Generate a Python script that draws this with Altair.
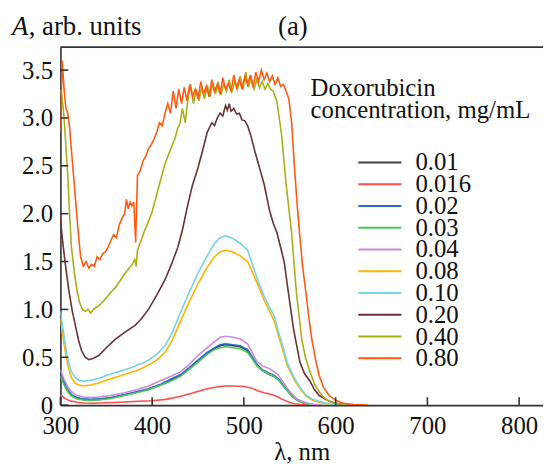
import altair as alt
import pandas as pd

# ---- data ----
concentrations = ["0.01", "0.016", "0.02", "0.03", "0.04", "0.08", "0.10", "0.20", "0.40", "0.80"]
colors = ["#404040", "#ff4d4d", "#2b6cc4", "#4dc85a", "#cc88dd", "#ffb300", "#73d4e6", "#6b2f34", "#a8b014", "#ff5a10"]

wl_001 = [300, 304, 308, 312, 318, 325, 333, 342, 355, 370, 383, 396, 410, 420, 431, 440, 450, 460, 468, 474, 480, 488, 496, 504, 510, 514, 520, 528, 533, 538, 542, 547, 552, 557, 563, 568, 575, 585]
a_001 = [0.32, 0.23, 0.15, 0.10, 0.075, 0.06, 0.055, 0.06, 0.075, 0.105, 0.135, 0.165, 0.215, 0.26, 0.31, 0.38, 0.46, 0.54, 0.59, 0.62, 0.63, 0.62, 0.61, 0.57, 0.48, 0.42, 0.36, 0.32, 0.30, 0.265, 0.215, 0.155, 0.10, 0.06, 0.03, 0.015, 0.005, 0.0]

wl_0016 = [300, 305, 310, 318, 325, 335, 350, 370, 385, 400, 415, 430, 445, 460, 470, 480, 490, 500, 508, 515, 522, 530, 536, 542, 548, 555, 562, 570]
a_0016 = [0.11, 0.07, 0.045, 0.03, 0.022, 0.02, 0.025, 0.033, 0.04, 0.045, 0.06, 0.09, 0.13, 0.17, 0.19, 0.20, 0.20, 0.195, 0.18, 0.15, 0.13, 0.11, 0.09, 0.06, 0.035, 0.015, 0.005, 0.0]

wl_002 = [300, 304, 308, 312, 318, 325, 333, 342, 355, 370, 383, 396, 410, 420, 431, 440, 450, 460, 468, 474, 480, 488, 496, 504, 510, 514, 520, 528, 533, 538, 542, 547, 552, 557, 563, 568, 575, 585]
a_002 = [0.33, 0.24, 0.16, 0.11, 0.08, 0.065, 0.06, 0.065, 0.08, 0.11, 0.14, 0.17, 0.22, 0.27, 0.32, 0.39, 0.47, 0.55, 0.60, 0.63, 0.64, 0.63, 0.62, 0.58, 0.49, 0.43, 0.37, 0.33, 0.31, 0.27, 0.22, 0.16, 0.10, 0.06, 0.03, 0.015, 0.005, 0.0]

wl_003 = [300, 304, 308, 312, 318, 325, 333, 342, 355, 370, 383, 396, 410, 420, 431, 440, 450, 460, 468, 474, 480, 488, 496, 504, 510, 514, 520, 528, 533, 538, 542, 547, 552, 557, 563, 568, 575, 585]
a_003 = [0.30, 0.21, 0.14, 0.095, 0.065, 0.055, 0.05, 0.055, 0.07, 0.10, 0.13, 0.16, 0.21, 0.25, 0.30, 0.37, 0.45, 0.53, 0.58, 0.60, 0.61, 0.60, 0.59, 0.55, 0.47, 0.41, 0.36, 0.32, 0.30, 0.26, 0.21, 0.15, 0.095, 0.055, 0.03, 0.015, 0.005, 0.0]

wl_004 = [300, 304, 308, 312, 318, 325, 333, 342, 355, 370, 383, 396, 410, 420, 431, 440, 450, 460, 468, 474, 480, 488, 496, 504, 510, 514, 520, 528, 533, 538, 542, 547, 552, 557, 563, 568, 575, 585]
a_004 = [0.37, 0.27, 0.19, 0.14, 0.10, 0.085, 0.08, 0.085, 0.10, 0.13, 0.16, 0.20, 0.26, 0.30, 0.35, 0.42, 0.52, 0.60, 0.66, 0.71, 0.72, 0.71, 0.69, 0.64, 0.53, 0.46, 0.41, 0.38, 0.35, 0.31, 0.25, 0.18, 0.12, 0.07, 0.04, 0.025, 0.01, 0.0]

wl_008 = [300, 303, 306, 309, 312, 316, 320, 325, 333, 342, 350, 360, 370, 380, 383, 390, 396, 405, 414, 422, 431, 440, 450, 460, 468, 474, 480, 488, 496, 504, 511, 516, 522, 527, 533, 539, 543, 547, 552, 557, 563, 568, 575, 582, 592, 601, 610]
a_008 = [0.90, 0.70, 0.52, 0.38, 0.29, 0.23, 0.21, 0.20, 0.21, 0.23, 0.26, 0.29, 0.32, 0.35, 0.36, 0.39, 0.42, 0.47, 0.55, 0.68, 0.88, 1.07, 1.27, 1.44, 1.55, 1.60, 1.62, 1.60, 1.56, 1.50, 1.35, 1.24, 1.10, 1.00, 0.88, 0.68, 0.56, 0.42, 0.32, 0.23, 0.15, 0.09, 0.05, 0.03, 0.01, 0.003, 0.0]

wl_010 = [300, 303, 306, 309, 312, 316, 320, 325, 333, 342, 350, 360, 370, 380, 383, 390, 396, 405, 414, 422, 431, 440, 450, 460, 468, 474, 480, 488, 496, 504, 511, 516, 522, 527, 533, 539, 543, 547, 552, 557, 563, 568, 575, 582, 592, 601, 610]
a_010 = [0.98, 0.78, 0.59, 0.45, 0.35, 0.29, 0.26, 0.25, 0.26, 0.28, 0.31, 0.34, 0.37, 0.40, 0.42, 0.44, 0.47, 0.53, 0.62, 0.76, 0.97, 1.17, 1.38, 1.56, 1.69, 1.75, 1.77, 1.74, 1.69, 1.62, 1.42, 1.28, 1.14, 1.04, 0.93, 0.72, 0.60, 0.45, 0.34, 0.25, 0.16, 0.10, 0.06, 0.04, 0.015, 0.005, 0.0]

wl_020 = [300, 302, 305, 309, 313, 317, 320, 323, 327, 331, 336, 342, 350, 360, 370, 381, 388, 396, 405, 414, 421, 428, 433, 439, 444, 450, 455, 460, 465, 468, 471, 474, 477, 480, 482, 484, 486, 489, 492, 495, 498, 501, 504, 508, 512, 517, 522, 528, 532, 536, 540, 544, 549, 554, 558, 561, 566, 572, 577, 582, 593, 600, 610, 620]
a_020 = [1.95, 1.75, 1.50, 1.21, 0.98, 0.80, 0.67, 0.57, 0.50, 0.475, 0.49, 0.52, 0.60, 0.69, 0.76, 0.83, 0.90, 1.00, 1.15, 1.31, 1.47, 1.65, 1.83, 2.10, 2.30, 2.48, 2.66, 2.85, 2.95, 2.92, 3.00, 3.05, 3.02, 3.13, 3.08, 3.15, 3.07, 3.10, 3.04, 3.05, 2.98, 2.97, 2.92, 2.80, 2.65, 2.48, 2.31, 2.03, 1.90, 1.80, 1.65, 1.49, 1.14, 0.80, 0.60, 0.45, 0.33, 0.25, 0.16, 0.10, 0.04, 0.02, 0.005, 0.0]

wl_040 = [300, 302, 304, 306, 308, 310, 312, 315, 318, 321, 324, 327, 330, 333, 336, 339, 342, 346, 350, 355, 360, 365, 370, 374, 378, 381, 382.5, 384, 388, 392, 396, 400, 405, 410, 414, 418, 422, 425, 428, 430, 433, 436, 439, 442, 445, 448, 451, 454, 457, 460, 463, 466, 469, 472, 475, 478, 481, 484, 487, 490, 493, 496, 499, 502, 505, 508, 511, 514, 517, 520, 523, 526, 529, 532, 536, 541, 546, 552, 557, 563, 567, 572, 577, 582, 587, 593, 600, 610, 620]
a_040 = [3.30, 3.20, 3.00, 2.70, 2.40, 2.00, 1.65, 1.40, 1.20, 1.07, 1.00, 0.98, 1.00, 0.96, 1.00, 1.02, 1.04, 1.08, 1.12, 1.18, 1.23, 1.30, 1.37, 1.42, 1.47, 1.52, 1.45, 1.62, 1.72, 1.83, 1.92, 2.02, 2.20, 2.38, 2.52, 2.62, 2.72, 2.79, 2.90, 2.93, 3.10, 2.95, 3.20, 3.35, 3.15, 3.30, 3.18, 3.32, 3.20, 3.34, 3.22, 3.36, 3.25, 3.38, 3.24, 3.36, 3.28, 3.40, 3.27, 3.38, 3.30, 3.44, 3.30, 3.48, 3.32, 3.42, 3.30, 3.40, 3.32, 3.38, 3.30, 3.36, 3.30, 3.28, 3.17, 2.83, 2.31, 1.80, 1.20, 0.69, 0.50, 0.35, 0.22, 0.14, 0.08, 0.04, 0.02, 0.005, 0.0]

wl_080 = [300, 302, 304, 306, 308, 310, 313, 316, 319, 322, 325, 328, 331, 334, 337, 340, 343, 346, 349, 352, 355, 358, 361, 364, 367, 370, 372, 374, 376, 378, 380, 382, 384, 387, 390, 393, 396, 399, 402, 405, 408, 411, 414, 417, 420, 423, 426, 429, 432, 435, 438, 441, 444, 447, 450, 453, 456, 459, 462, 465, 468, 471, 474, 477, 480, 483, 486, 489, 492, 495, 498, 501, 504, 507, 510, 513, 516, 519, 522, 525, 528, 531, 534, 537, 540, 543, 546, 549, 552, 555, 558, 561, 564, 568, 571, 574, 578, 582, 587, 593, 600, 608, 620, 635]
a_080 = [2.85, 3.60, 3.30, 3.10, 3.05, 2.90, 2.55, 2.20, 1.85, 1.55, 1.45, 1.50, 1.43, 1.47, 1.45, 1.55, 1.52, 1.58, 1.60, 1.65, 1.72, 1.78, 1.75, 1.88, 1.95, 2.00, 2.15, 2.05, 2.12, 2.08, 2.12, 1.70, 2.40, 2.45, 2.55, 2.60, 2.68, 2.72, 2.78, 2.85, 2.95, 2.92, 3.05, 3.15, 3.05, 3.28, 3.10, 3.30, 3.15, 3.32, 3.18, 3.35, 3.22, 3.30, 3.20, 3.38, 3.25, 3.33, 3.22, 3.40, 3.28, 3.35, 3.25, 3.42, 3.30, 3.36, 3.28, 3.45, 3.32, 3.40, 3.30, 3.43, 3.35, 3.45, 3.32, 3.48, 3.38, 3.50, 3.40, 3.47, 3.38, 3.44, 3.35, 3.42, 3.33, 3.35, 3.28, 3.20, 2.95, 2.50, 2.10, 1.76, 1.45, 1.14, 0.90, 0.69, 0.48, 0.31, 0.18, 0.10, 0.05, 0.02, 0.005, 0.0]

x_ticks = [300, 400, 500, 600, 700, 800]
y_ticks = [0, 0.5, 1.0, 1.5, 2.0, 2.5, 3.0, 3.5]

series = {
    "0.01": (wl_001, a_001), "0.016": (wl_0016, a_0016), "0.02": (wl_002, a_002),
    "0.03": (wl_003, a_003), "0.04": (wl_004, a_004), "0.08": (wl_008, a_008),
    "0.10": (wl_010, a_010), "0.20": (wl_020, a_020), "0.40": (wl_040, a_040),
    "0.80": (wl_080, a_080),
}
rows = []
for k, c in enumerate(concentrations):
    xs, ys = series[c]
    for i, (x, y) in enumerate(zip(xs, ys)):
        rows.append({"c": c, "order": k, "i": i, "wl": x, "A": y})
df = pd.DataFrame(rows)

W, H = 488, 362
XMAX, YMAX = 826, 3.74
FONT = "Liberation Serif"
FS = 25

xscale = alt.Scale(domain=[300, XMAX], nice=False, zero=False)
yscale = alt.Scale(domain=[0, YMAX], nice=False)

x_axis = alt.Axis(
    values=x_ticks, ticks=False, grid=False, domainColor="#333", domainWidth=1.6,
    labelFont=FONT, labelFontSize=FS, labelColor="#111", labelPadding=9, labelFlush=False,
    title="λ, nm", titleFont=FONT, titleFontSize=FS, titleFontWeight="normal",
    titleColor="#111", titlePadding=1)
y_axis = alt.Axis(
    values=y_ticks, ticks=False, grid=False, domainColor="#333", domainWidth=1.6,
    labelFont=FONT, labelFontSize=FS, labelColor="#111", labelPadding=8, labelFlush=False,
    labelExpr="datum.value == 0 ? '0' : format(datum.value, '.1f')", title=None)

lines = alt.Chart(df).mark_line(strokeWidth=1.6, clip=True).encode(
    x=alt.X("wl:Q", scale=xscale, axis=x_axis),
    y=alt.Y("A:Q", scale=yscale, axis=y_axis),
    color=alt.Color("c:N", sort=concentrations,
                    scale=alt.Scale(domain=concentrations, range=colors),
                    legend=alt.Legend(
                        title=None, orient="none", legendX=300, legendY=108,
                        symbolType="stroke", symbolSize=1900, symbolStrokeWidth=2,
                        labelFont=FONT, labelFontSize=FS, labelColor="#111",
                        labelOffset=13, rowPadding=-6, clipHeight=17.4, padding=0,
                        labelLimit=200)),
    detail="c:N",
    order="i:Q",
)

xt = alt.Chart(pd.DataFrame({"wl": x_ticks})).mark_rule(color="#333", strokeWidth=1.6).encode(
    x=alt.X("wl:Q", scale=xscale, axis=x_axis), y=alt.value(H), y2=alt.value(H - 8))
yt = alt.Chart(pd.DataFrame({"A": y_ticks})).mark_rule(color="#333", strokeWidth=1.6).encode(
    y=alt.Y("A:Q", scale=yscale, axis=y_axis), x=alt.value(0), x2=alt.value(8))
top = alt.Chart(pd.DataFrame({"A": [YMAX]})).mark_rule(color="#333", strokeWidth=1.6).encode(
    y=alt.Y("A:Q", scale=yscale, axis=y_axis), x=alt.value(0), x2=alt.value(W))

def label(txt, x, y, style="normal", align="left", size=FS):
    return alt.Chart(pd.DataFrame({"s": [txt]})).mark_text(
        font=FONT, fontSize=size, fontStyle=style, color="#111", align=align,
        baseline="alphabetic").encode(text="s:N", x=alt.value(x), y=alt.value(y))

texts = [
    label("A", -49, -12, style="italic", size=27),
    label(", arb. units", -32, -12, size=27),
    label("(a)", 235, -12, align="center", size=27),
    label("Doxorubicin", 253, 49),
    label("concentration, mg/mL", 253, 72),
]

chart = alt.layer(lines, xt, yt, top, *texts).properties(
    width=W, height=H,
    autosize=alt.AutoSizeParams(type="none"),
    padding={"left": 53, "top": 37, "right": 0, "bottom": 60},
).configure_view(stroke=None).configure(background="white")

chart.save("out.html", embed_options={"renderer": "svg", "actions": False})
